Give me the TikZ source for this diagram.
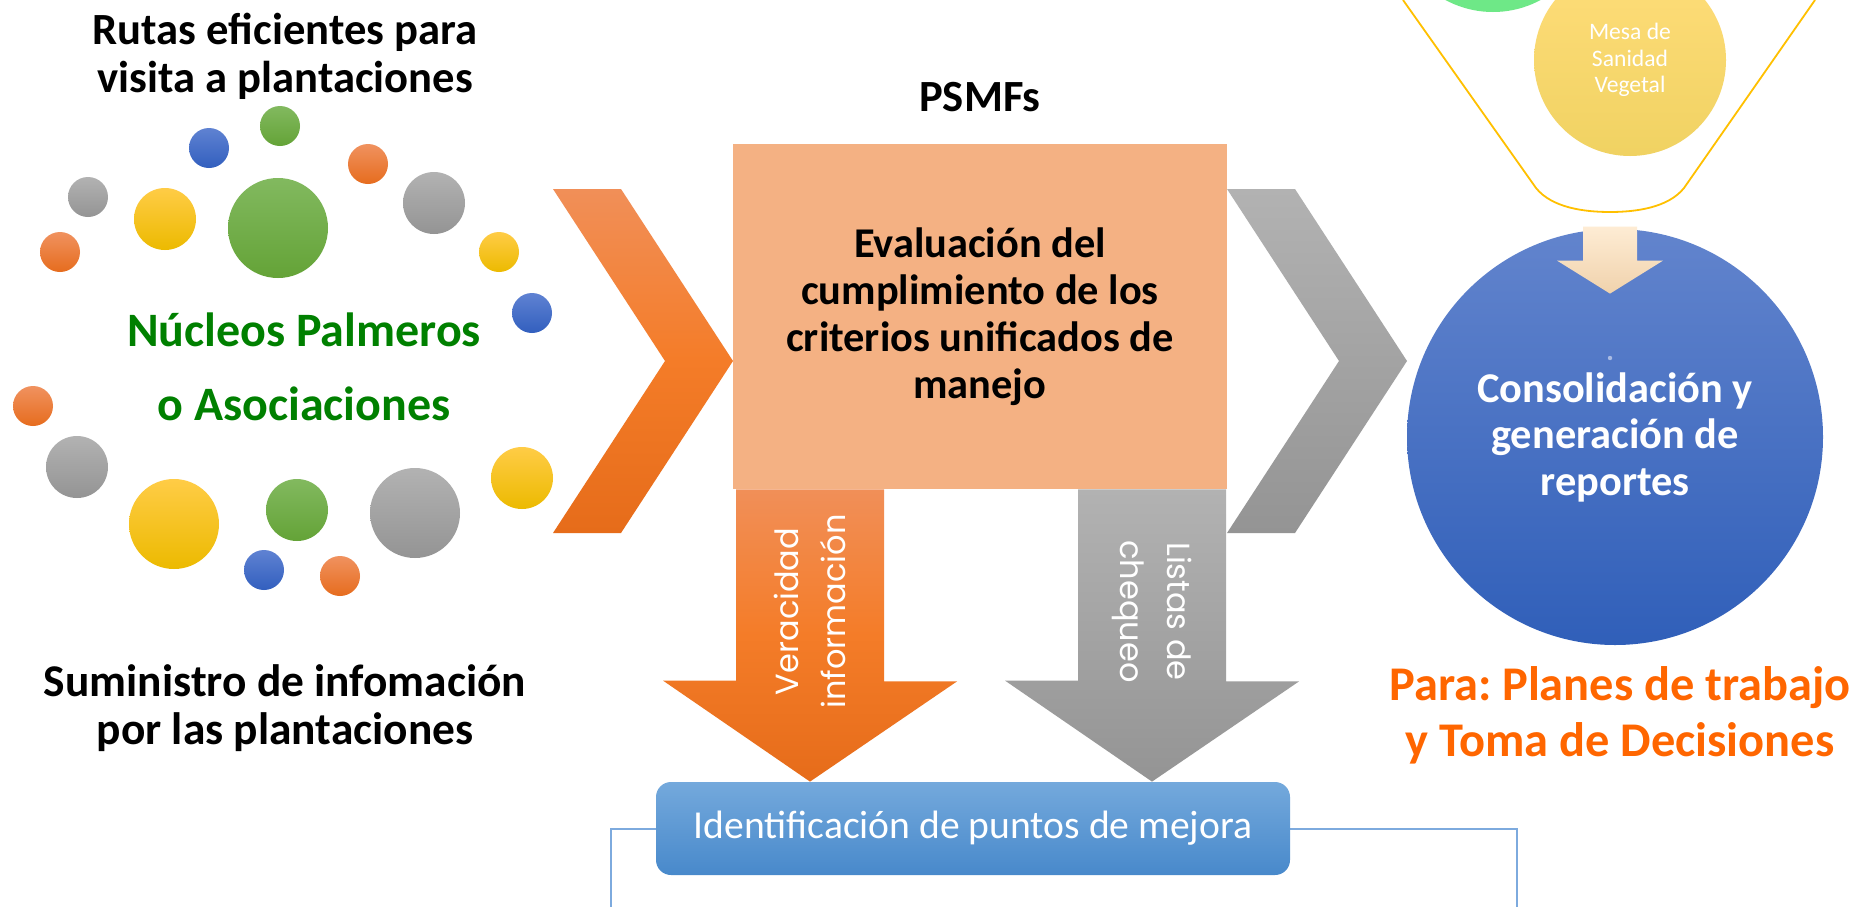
\documentclass[tikz,border=0pt]{standalone}
\usepackage{fontspec}
\setmainfont{Carlito}
\newfontfamily\gothicfont{Poppins}
\usetikzlibrary{shapes,arrows,positioning,calc}
\pgfdeclarelayer{bg}
\pgfsetlayers{bg,main}
\frenchspacing

\definecolor{peach}{RGB}{244,177,131}
\definecolor{orgA}{RGB}{241,143,88}
\definecolor{orgM}{RGB}{244,124,40}
\definecolor{orgB}{RGB}{230,108,26}
\definecolor{gryA}{RGB}{178,178,178}
\definecolor{gryB}{RGB}{148,148,148}
\definecolor{bluA}{RGB}{98,132,205}
\definecolor{bluB}{RGB}{48,95,185}
\definecolor{skyA}{RGB}{116,169,220}
\definecolor{skyB}{RGB}{72,137,203}
\definecolor{framecol}{RGB}{125,170,222}
\definecolor{creamA}{RGB}{254,236,212}
\definecolor{creamB}{RGB}{240,210,172}
\definecolor{sunA}{RGB}{255,221,122}
\definecolor{sunB}{RGB}{240,210,98}
\definecolor{mint}{RGB}{110,232,135}
\definecolor{funnelcol}{RGB}{255,192,0}
\definecolor{leafgreen}{RGB}{0,128,0}
\definecolor{paraorange}{RGB}{255,102,0}
% dot colours (top / bottom)
\definecolor{dgA}{RGB}{130,185,95}  \definecolor{dgB}{RGB}{100,163,55}
\definecolor{dbA}{RGB}{95,130,210}  \definecolor{dbB}{RGB}{50,95,190}
\definecolor{doA}{RGB}{240,146,95}  \definecolor{doB}{RGB}{230,108,30}
\definecolor{dkA}{RGB}{178,178,178} \definecolor{dkB}{RGB}{148,148,148}
\definecolor{dyA}{RGB}{255,204,70}  \definecolor{dyB}{RGB}{236,186,0}

\tikzstyle{bigtext} = [font=\bfseries\fontsize{22.3}{24}\selectfont, align=center, inner sep=0pt]
\tikzstyle{evalbox} = [rectangle, fill=peach, minimum width=247pt, minimum height=172.5pt, inner sep=0pt, align=center, font=\bfseries\fontsize{21.2}{23.5}\selectfont]
\tikzstyle{arrowtxt} = [text=white, align=center, inner sep=0pt, font=\gothicfont\fontsize{16}{23.5}\selectfont]
\tikzstyle{reportcircle} = [circle, top color=bluA, bottom color=bluB, minimum size=208pt, inner sep=0pt, text=white, align=center, font=\bfseries\fontsize{21.2}{23.25}\selectfont]
\tikzstyle{identbox} = [rectangle, rounded corners=7.5pt, top color=skyA, bottom color=skyB, minimum width=317pt, minimum height=46.5pt, inner sep=0pt, text=white, font=\fontsize{19.8}{24}\selectfont]
\tikzstyle{mesacircle} = [circle, top color=sunA, bottom color=sunB, minimum size=96pt, inner sep=0pt, text=white, align=center, font=\fontsize{11.8}{13.25}\selectfont]

\begin{document}
\begin{tikzpicture}[x=0.5pt, y=-0.5pt]
    \useasboundingbox (0,0) rectangle (1852,906);
    \begin{pgfonlayer}{bg}
        \fill[white] (0,0) rectangle (1852,906);
    \end{pgfonlayer}

    % dots round the palm growers
    \foreach \x/\y/\r/\c in {280/126/20/dg, 209/148/20/db, 368/164/20/do, 88/197/20/dk,
        165/219/31/dy, 278/228/50/dg, 434/203/31/dk, 499/252/20/dy, 60/252/20/do,
        532/313/20/db, 33/406/20/do, 77/467/31/dk, 174/524/45/dy, 297/510/31/dg,
        415/513/45/dk, 522/478/31/dy, 264/570/20/db, 340/576/20/do}
        \shade[top color=\c A, bottom color=\c B] (\x,\y) circle (\r);

    \node[bigtext] (rutas) at (285,56) {Rutas eficientes para\\visita a plantaciones};
    \node[bigtext, text=leafgreen, font=\bfseries\fontsize{24}{37}\selectfont] (nucleos) at (304,367) {Núcleos Palmeros\\o Asociaciones};
    \node[bigtext, font=\bfseries\fontsize{22.7}{24}\selectfont] (sumin) at (285,708) {Suministro de infomación\\por las plantaciones};

    \node[bigtext, anchor=base] (psmf) at (980,111) {PSMFs};
    \node[evalbox] (eval) at (980,316.5) {Evaluación del\\cumplimiento de los\\criterios unificados de\\manejo};

    % funnel of the plant health table
    \node[circle, fill=mint, minimum size=100pt] (mint) at (1493,-88) {};
    \node[mesacircle] (mesa) at (1630,60) {Mesa de\\Sanidad\\Vegetal};
    \draw[funnelcol, line width=0.9pt] (1403,0) -- (1536,188) .. controls (1552,208) and (1585,212) .. (1610,212)
        .. controls (1635,212) and (1668,208) .. (1684,188) -- (1815,0);

    \node[reportcircle] (consol) at (1615,437) {Consolidación y\\generación de\\reportes};
    \fill[bluA!55!white] (1610,358) circle (2.2);
    \coordinate (drop) at ($(consol.north)+(-5,-2)$);
    \shade[top color=creamA, bottom color=creamB] (drop) ++(-27,0) -- ++(54,0) -- ++(0,34) -- ++(26,0)
        -- ++(-53,33) -- ++(-53,-33) -- ++(26,0) -- cycle;
    \node[bigtext, text=paraorange, font=\bfseries\fontsize{24.2}{28}\selectfont] (para) at (1620,715) {Para: Planes de trabajo\\y Toma de Decisiones};

    \draw[framecol, line width=0.8pt] (611,930) |- (1517,829) -- (1517,930);
    \node[identbox] (ident) at (973,828.5) {Identificación de puntos de mejora};

    \coordinate (vera) at ($(eval.south)+(-170,0)$);
    \coordinate (lista) at ($(eval.south)+(172,0)$);
    \node[arrowtxt, rotate=90] (veratxt) at ($(vera)+(0,122)$) {Veracidad\\información};
    \node[arrowtxt, rotate=-90] (listatxt) at ($(lista)+(0,122)$) {Listas de\\chequeo};

    \begin{pgfonlayer}{bg}
        \shade[top color=orgA, bottom color=orgB, middle color=orgM] (553,189) -- (621,189) -- (733,361)
            -- (621,533) -- (553,533) -- (665,361) -- cycle;
        \shade[top color=gryA, bottom color=gryB] (1227,189) -- (1295,189) -- (1407,361)
            -- (1295,533) -- (1227,533) -- (1339,361) -- cycle;

        \shade[top color=orgA, bottom color=orgB, middle color=orgM] (vera) ++(-74,0) -- ++(148,0) -- ++(0,192)
            -- ++(73,0) -- (vera |- ident.north) -- ++(-147,-101) -- ++(73,0) -- cycle;
        \shade[top color=gryA, bottom color=gryB] (lista) ++(-74,0) -- ++(148,0) -- ++(0,192)
            -- ++(73,0) -- (lista |- ident.north) -- ++(-147,-101) -- ++(73,0) -- cycle;
    \end{pgfonlayer}
\end{tikzpicture}
\end{document}
